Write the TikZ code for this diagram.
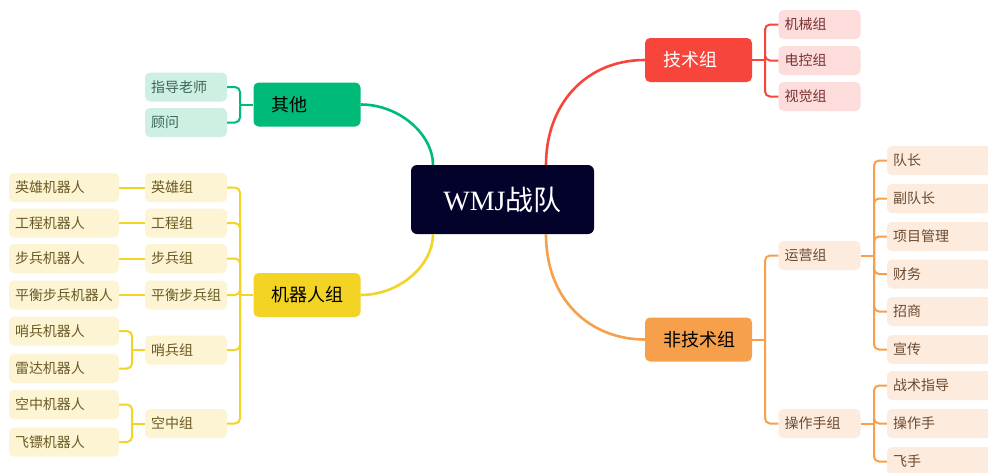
\documentclass[tikz,border=0pt]{standalone}
\usepackage{fontspec}
\setmainfont{Liberation Serif}
\newfontfamily\cjk{Noto Sans CJK SC}
\usetikzlibrary{calc}
\definecolor{rootc}{HTML}{03022B}
\definecolor{redc}{HTML}{F7453B}
\definecolor{redl}{HTML}{FDDCDC}
\definecolor{redt}{HTML}{7A3030}
\definecolor{greenc}{HTML}{00BB78}
\definecolor{greenl}{HTML}{CDF0E3}
\definecolor{greent}{HTML}{3A6657}
\definecolor{yelc}{HTML}{F3D324}
\definecolor{yell}{HTML}{FCF4D2}
\definecolor{yelt}{HTML}{6B5A25}
\definecolor{orac}{HTML}{F7A04B}
\definecolor{oral}{HTML}{FDEBDD}
\definecolor{orat}{HTML}{6B4A30}
\tikzset{
  grp/.style={rounded corners=5pt, minimum height=44pt, inner xsep=18pt, inner ysep=0pt,
    text width=71pt, align=left, font=\cjk\fontsize{18}{20}\selectfont},
  leaf/.style={rounded corners=5pt, minimum height=29pt, inner xsep=6pt, inner ysep=0pt,
    align=left, font=\cjk\fontsize{14}{16}\selectfont},
  leafS/.style={leaf, text width=70pt},
  leafL/.style={leaf, text width=98pt},
  mainln/.style={line width=2.6pt},
  brk/.style={line width=2pt, rounded corners=5pt},
}
\begin{document}
\begin{tikzpicture}[x=1pt,y=-1pt]
\clip (0,0) rectangle (988,472);
\fill[white] (0,0) rectangle (988,472);

% root
\node[fill=rootc, text=white, rounded corners=6pt, minimum width=183pt, minimum height=69pt, inner sep=0pt,
  font=\fontsize{28}{30}\selectfont] (root) at (502.5,199.5) {WMJ{\cjk 战队}};

% groups
\node[grp, fill=redc, text=white] (tech) at (698.5,60) {技术组};
\node[grp, fill=greenc, text=black] (other) at (307,104.5) {其他};
\node[grp, fill=yelc, text=black] (robot) at (307,295) {机器人组};
\node[grp, fill=orac, text=black] (nontech) at (698.5,339.5) {非技术组};

% main curves
\draw[mainln, redc] ($(root.north)+(43.5,0)$) .. controls (546,105) and (585,60) .. (tech.west);
\draw[mainln, greenc] ($(root.north)+(-69.5,0)$) .. controls (433,135) and (400,104.5) .. (other.east);
\draw[mainln, yelc] ($(root.south)+(-69.5,0)$) .. controls (433,265) and (400,295) .. (robot.east);
\draw[mainln, orac] ($(root.south)+(43.5,0)$) .. controls (546,300) and (590,339.5) .. (nontech.west);

% tech children
\node[leafS, fill=redl, text=redt] (mech) at (819.5,24.5) {机械组};
\node[leafS, fill=redl, text=redt] (elec) at (819.5,60.5) {电控组};
\node[leafS, fill=redl, text=redt] (vis) at (819.5,96.5) {视觉组};
\coordinate (jtech) at (765,60);
\draw[brk, redc] (tech.east) -- (jtech);
\foreach \c in {mech,elec,vis} \draw[brk, redc] (jtech) |- (\c.west);

% other children
\node[leafS, fill=greenl, text=greent] (adv) at (186,87) {指导老师};
\node[leafS, fill=greenl, text=greent] (cons) at (186,122.5) {顾问};
\coordinate (joth) at (240,104.5);
\draw[brk, greenc] (other.west) -- (joth);
\foreach \c in {adv,cons} \draw[brk, greenc] (joth) |- (\c.east);

% robot children
\node[leafS, fill=yell, text=yelt] (hero) at (186,187.5) {英雄组};
\node[leafS, fill=yell, text=yelt] (eng) at (186,223) {工程组};
\node[leafS, fill=yell, text=yelt] (inf) at (186,258.5) {步兵组};
\node[leafS, fill=yell, text=yelt] (bal) at (186,295) {平衡步兵组};
\node[leafS, fill=yell, text=yelt] (sen) at (186,350) {哨兵组};
\node[leafS, fill=yell, text=yelt] (air) at (186,423.5) {空中组};
\coordinate (jrob) at (240,295);
\draw[brk, yelc] (robot.west) -- (jrob);
\foreach \c in {hero,eng,inf,bal,sen,air} \draw[brk, yelc] (jrob) |- (\c.east);

\node[leafL, fill=yell, text=yelt] (heroR) at (64,187.5) {英雄机器人};
\node[leafL, fill=yell, text=yelt] (engR) at (64,223) {工程机器人};
\node[leafL, fill=yell, text=yelt] (infR) at (64,258.5) {步兵机器人};
\node[leafL, fill=yell, text=yelt] (balR) at (64,295) {平衡步兵机器人};
\node[leafL, fill=yell, text=yelt] (senR) at (64,331) {哨兵机器人};
\node[leafL, fill=yell, text=yelt] (radR) at (64,368.5) {雷达机器人};
\node[leafL, fill=yell, text=yelt] (airR) at (64,404.5) {空中机器人};
\node[leafL, fill=yell, text=yelt] (dartR) at (64,442) {飞镖机器人};
\draw[brk, yelc] (hero.west) -- (heroR.east);
\draw[brk, yelc] (eng.west) -- (engR.east);
\draw[brk, yelc] (inf.west) -- (infR.east);
\draw[brk, yelc] (bal.west) -- (balR.east);
\coordinate (jsen) at (132,350);
\draw[brk, yelc] (sen.west) -- (jsen);
\foreach \c in {senR,radR} \draw[brk, yelc] (jsen) |- (\c.east);
\coordinate (jair) at (132,423.5);
\draw[brk, yelc] (air.west) -- (jair);
\foreach \c in {airR,dartR} \draw[brk, yelc] (jair) |- (\c.east);

% nontech children
\node[leafS, fill=oral, text=orat] (opg) at (819.5,255.5) {运营组};
\node[leafS, fill=oral, text=orat] (plg) at (819.5,423.5) {操作手组};
\coordinate (jnon) at (765,339.5);
\draw[brk, orac] (nontech.east) -- (jnon);
\foreach \c in {opg,plg} \draw[brk, orac] (jnon) |- (\c.west);

\node[leafL, fill=oral, text=orat] (cap) at (942,160.5) {队长};
\node[leafL, fill=oral, text=orat] (vcap) at (942,198.5) {副队长};
\node[leafL, fill=oral, text=orat] (pm) at (942,236.5) {项目管理};
\node[leafL, fill=oral, text=orat] (fin) at (942,274) {财务};
\node[leafL, fill=oral, text=orat] (spon) at (942,311.5) {招商};
\node[leafL, fill=oral, text=orat] (pub) at (942,349.5) {宣传};
\coordinate (jop) at (874,255.5);
\draw[brk, orac] (opg.east) -- (jop);
\foreach \c in {cap,vcap,pm,fin,spon,pub} \draw[brk, orac] (jop) |- (\c.west);

\node[leafL, fill=oral, text=orat] (tac) at (942,385.5) {战术指导};
\node[leafL, fill=oral, text=orat] (opr) at (942,423.5) {操作手};
\node[leafL, fill=oral, text=orat] (fly) at (942,461.5) {飞手};
\coordinate (jpl) at (874,423.5);
\draw[brk, orac] (plg.east) -- (jpl);
\foreach \c in {tac,opr,fly} \draw[brk, orac] (jpl) |- (\c.west);
\end{tikzpicture}
\end{document}
